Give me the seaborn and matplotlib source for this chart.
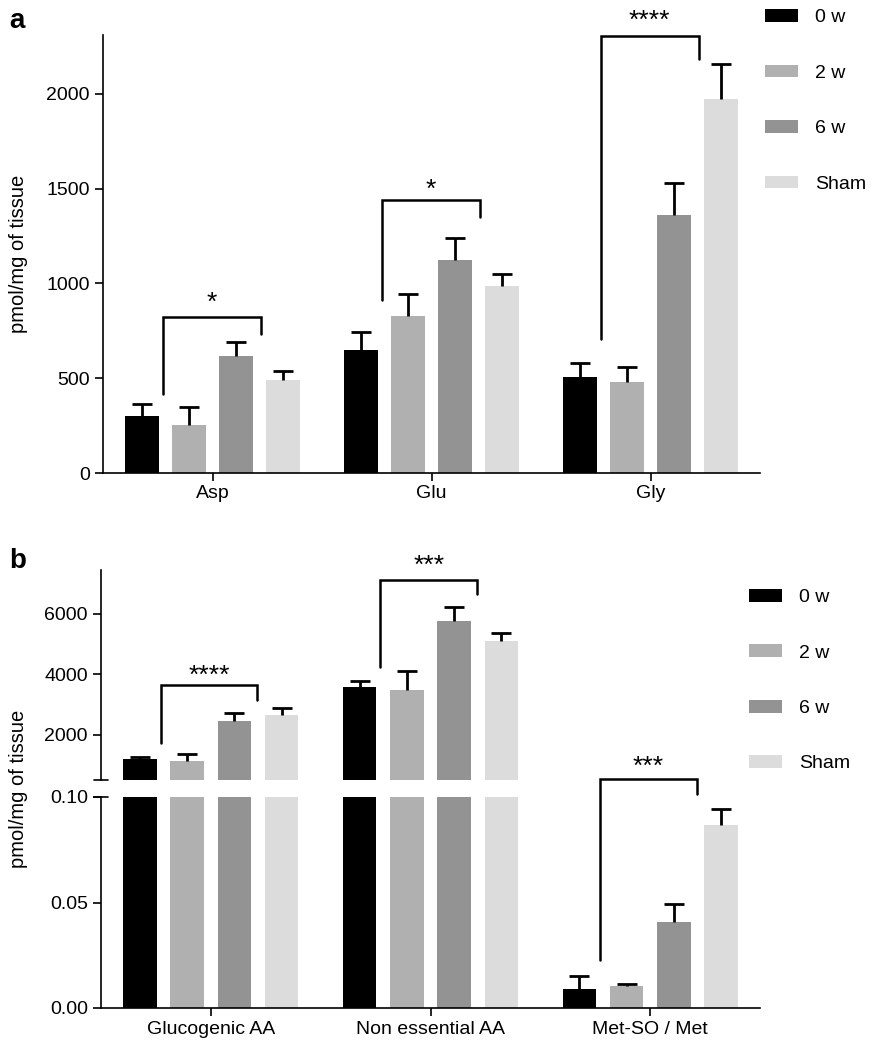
import numpy as np
import pandas as pd
import seaborn as sns
import matplotlib.pyplot as plt
from matplotlib.patches import Patch

sns.set_style("ticks")
plt.rcParams['font.family'] = ['Liberation Sans', 'DejaVu Sans']
plt.rcParams['font.size'] = 14
for k in ['text.color', 'axes.labelcolor', 'xtick.color', 'ytick.color', 'axes.edgecolor']:
    plt.rcParams[k] = 'black'

groups = ['0 w', '2 w', '6 w', 'Sham']
colors = ['#000000', '#b0b0b0', '#939393', '#dcdcdc']

# panel a - pmol/mg of tissue
aa_a = ['Asp', 'Glu', 'Gly']
a_0w = [300, 651, 505]
a_2w = [251, 830, 479]
a_6w = [619, 1123, 1360]
a_sham = [488, 984, 1970]
a_err_0w = [65, 95, 74]
a_err_2w = [96, 114, 79]
a_err_6w = [70, 119, 172]
a_err_sham = [52, 65, 188]

# brackets a: bracket top, left leg end, right leg end, star position
a_brk_y = [825, 1440, 2307]
a_brk_left = [418, 912, 707]
a_brk_right = [733, 1351, 2186]
a_star_y = [918, 1514, 2409]
a_stars = ['*', '*', '****']

# panel b
aa_b = ['Glucogenic AA', 'Non essential AA', 'Met-SO / Met']
b_0w = [1209, 3570, 0.0088]
b_2w = [1116, 3477, 0.0104]
b_6w = [2453, 5767, 0.0406]
b_sham = [2640, 5105, 0.0867]
b_err_0w = [58, 221, 0.0066]
b_err_2w = [244, 616, 0.0012]
b_err_6w = [268, 466, 0.0088]
b_err_sham = [255, 255, 0.0075]

b_brk_y = [3651, 7105, 0.1085]
b_brk_left = [1733, 4233, 0.0227]
b_brk_right = [3151, 6640, 0.1012]
b_star_y = [4081, 7721, 0.1162]
b_stars = ['****', '***', '***']
b_brk_axis = ['top', 'top', 'bottom']

STAR_FS = 19


def long_df(cats, vals):
    return pd.DataFrame({'aa': cats * len(groups),
                         'group': np.repeat(groups, len(cats)),
                         'value': sum(vals, [])})


def draw_bars(ax, df, errs):
    sns.barplot(data=df, x='aa', y='value', hue='group', hue_order=groups,
                palette=colors, saturation=1, width=0.86, gap=0.29,
                errorbar=None, legend=False, linewidth=0, ax=ax)
    for cont, err in zip(ax.containers, errs):
        bars = sorted(cont.patches, key=lambda b: b.get_x())
        for b, e in zip(bars, err):
            eb = ax.errorbar(b.get_x() + b.get_width() / 2, b.get_height(),
                             yerr=[[0], [e]], fmt='none', ecolor='black',
                             elinewidth=2, capsize=7.5, capthick=2)
            # only the upper cap, like the original
            for cap in eb.lines[1]:
                if cap.get_ydata()[0] == b.get_height():
                    cap.set_visible(False)


def bracket(ax, xc, y, yl, yr, star_y, stars, dl=-0.228, dr=0.22):
    ax.plot([xc + dl, xc + dl, xc + dr, xc + dr], [yl, y, y, yr],
            color='black', lw=1.8, clip_on=False, solid_joinstyle='miter')
    ax.annotate(stars, (xc + (dl + dr) / 2, star_y), xytext=(0, -0.43 * STAR_FS),
                textcoords='offset points', ha='center', va='baseline',
                fontsize=STAR_FS, annotation_clip=False)


def style(ax):
    for s in ['top', 'right']:
        ax.spines[s].set_visible(False)
    for s in ['left', 'bottom']:
        ax.spines[s].set_linewidth(1.2)
    ax.tick_params(width=1.2, length=6, labelsize=14)
    ax.tick_params(axis='x', pad=3)
    ax.set_xlabel('')
    ax.set_ylabel('')
    ax.set_xlim(-0.5, 2.5)


def add_legend(ax, x_px, y_px):
    handles = [Patch(facecolor=c, edgecolor='none') for c in colors]
    ax.legend(handles, groups, loc='upper left', bbox_to_anchor=(x_px / 871, 1 - y_px / 1050),
              bbox_transform=fig.transFigure, frameon=False, handlelength=1.7,
              handleheight=0.62, handletextpad=0.87, labelspacing=1.97,
              borderpad=0, borderaxespad=0, fontsize=14)


fig = plt.figure(figsize=(8.71, 10.5), dpi=100)

# ---- panel a
ax_a = fig.add_axes([103 / 871, 1 - 473 / 1050, 657 / 871, 438 / 1050])
df_a = long_df(aa_a, [a_0w, a_2w, a_6w, a_sham])
draw_bars(ax_a, df_a, [a_err_0w, a_err_2w, a_err_6w, a_err_sham])
style(ax_a)
ax_a.set_ylim(0, 2310)
ax_a.set_yticks([0, 500, 1000, 1500, 2000])
for i in range(3):
    bracket(ax_a, i, a_brk_y[i], a_brk_left[i], a_brk_right[i], a_star_y[i], a_stars[i])
add_legend(ax_a, 765, 9.2)

# ---- panel b (broken axis)
ax_top = fig.add_axes([101 / 871, 1 - 780 / 1050, 659 / 871, 210 / 1050])
ax_bot = fig.add_axes([101 / 871, 1 - 1008 / 1050, 659 / 871, 211 / 1050])
df_b = long_df(aa_b, [b_0w, b_2w, b_6w, b_sham])
b_errs = [b_err_0w, b_err_2w, b_err_6w, b_err_sham]
draw_bars(ax_top, df_b, b_errs)
draw_bars(ax_bot, df_b, b_errs)
style(ax_top)
style(ax_bot)
ax_top.set_ylim(500, 7450)
ax_top.set_yticks([2000, 4000, 6000])
ax_top.spines['bottom'].set_visible(False)
ax_top.tick_params(axis='x', bottom=False, labelbottom=False)
ax_bot.set_ylim(0, 0.10)
ax_bot.set_yticks([0, 0.05, 0.10])
ax_bot.set_yticklabels(['0.00', '0.05', '0.10'])

d = 0.011
ax_top.plot([-d, d], [0, 0], transform=ax_top.transAxes, color='black', lw=1.2, clip_on=False)
ax_bot.plot([-d, d], [1, 1], transform=ax_bot.transAxes, color='black', lw=1.2, clip_on=False)

for i in range(3):
    ax = ax_top if b_brk_axis[i] == 'top' else ax_bot
    bracket(ax, i, b_brk_y[i], b_brk_left[i], b_brk_right[i], b_star_y[i], b_stars[i], dr=0.212)
add_legend(ax_bot, 749, 589)

# labels
fig.text(18 / 871, 1 - 254 / 1050, 'pmol/mg of tissue', rotation=90, ha='center', va='center', fontsize=14.5)
fig.text(18 / 871, 1 - 789 / 1050, 'pmol/mg of tissue', rotation=90, ha='center', va='center', fontsize=14.5)
fig.text(9 / 871, 1 - 28 / 1050, 'a', fontsize=20, fontweight='bold', va='baseline')
fig.text(9 / 871, 1 - 568 / 1050, 'b', fontsize=20, fontweight='bold', va='baseline')

fig.savefig('out.png', dpi=100)
